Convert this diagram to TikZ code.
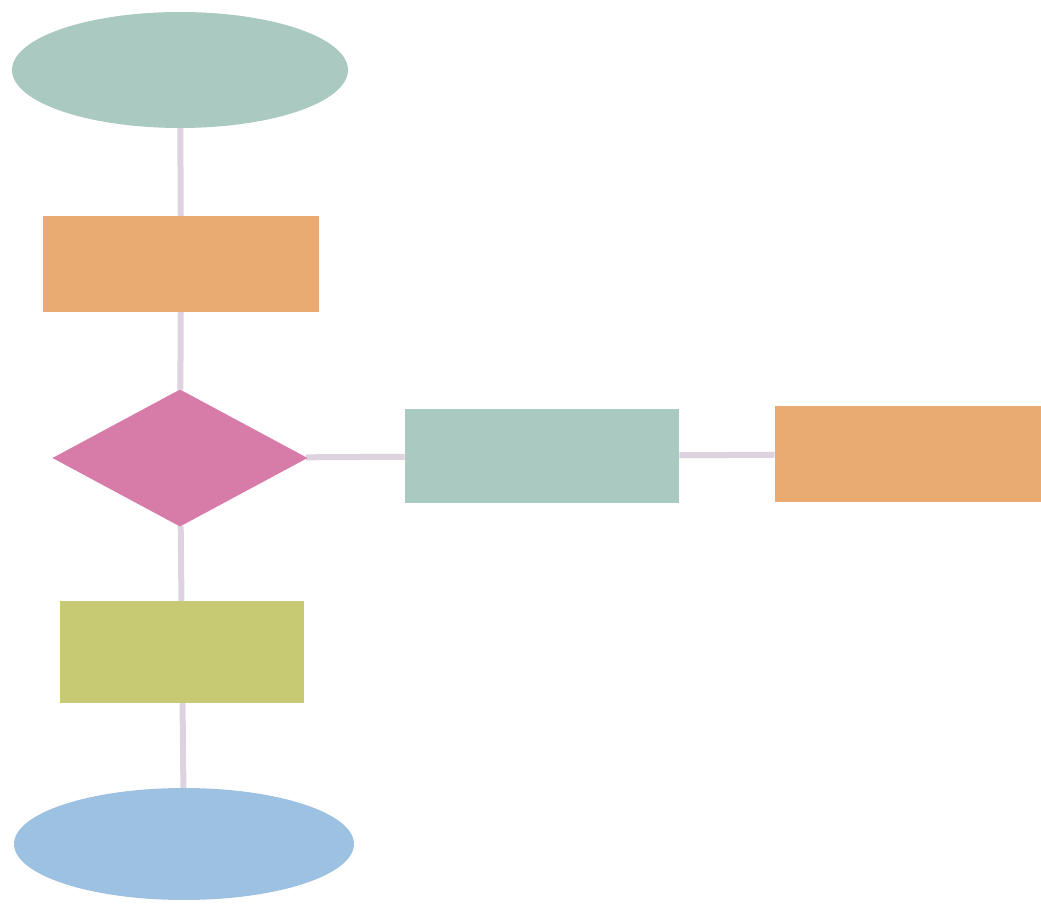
\documentclass[tikz,border=0pt]{standalone}
\usetikzlibrary{shapes.geometric,backgrounds}
\definecolor{cteal}{HTML}{A9C9C1}
\definecolor{corange}{HTML}{EAAB72}
\definecolor{cpink}{HTML}{D77BA9}
\definecolor{colive}{HTML}{C8C973}
\definecolor{cblue}{HTML}{9DC1E1}
\definecolor{cline}{HTML}{DCD3DF}
\tikzset{
  shapebase/.style={inner sep=0pt, outer sep=0pt, draw=none},
  ovalbox/.style={shapebase, ellipse},
  rectbox/.style={shapebase, rectangle},
  decbox/.style={shapebase, diamond},
  link/.style={draw=cline, line width=0.12cm}
}
\begin{document}
\begin{tikzpicture}[x=0.02cm,y=-0.02cm]
\useasboundingbox (0,0) rectangle (1041,905);
\node[ovalbox, fill=cteal, minimum width=6.72cm, minimum height=2.32cm] (start) at (180,70) {};
\node[rectbox, fill=corange, minimum width=5.52cm, minimum height=1.92cm] (proc1) at (181,264) {};
\node[decbox, fill=cpink, minimum width=5.1cm, minimum height=2.74cm] (dec) at (180,458) {};
\node[rectbox, fill=cteal, minimum width=5.5cm, minimum height=1.9cm] (proc2) at (542,456) {};
\node[rectbox, fill=corange, minimum width=5.5cm, minimum height=1.92cm] (proc3) at (912,454) {};
\node[rectbox, fill=colive, minimum width=4.9cm, minimum height=2.04cm] (proc4) at (182,652) {};
\node[ovalbox, fill=cblue, minimum width=6.8cm, minimum height=2.24cm] (stop) at (184,844) {};
\begin{scope}[on background layer]
\draw[link] (start) -- (proc1);
\draw[link] (proc1) -- (dec);
\draw[link] (dec) -- (proc4);
\draw[link] (proc4) -- (stop);
\draw[link] (dec) -- (proc2);
\draw[link] (proc2) -- (proc3);
\end{scope}
\end{tikzpicture}
\end{document}
